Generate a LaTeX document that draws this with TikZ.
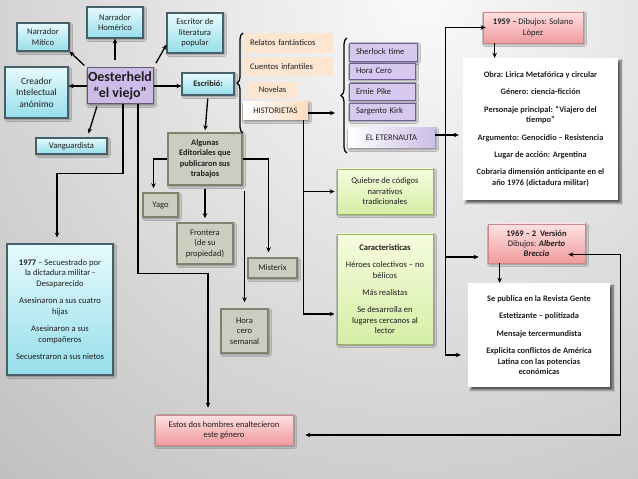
\documentclass[tikz,border=0pt]{standalone}
\usepackage{fontspec}
\setmainfont{Carlito}
\usetikzlibrary{arrows.meta,shadows,shadows.blur,calc,decorations.pathreplacing}
\definecolor{txt}{RGB}{30,30,30}
\definecolor{cyanT}{RGB}{230,250,253}
\definecolor{cyanB}{RGB}{150,222,234}
\definecolor{cyanD}{RGB}{70,95,105}
\definecolor{lav}{RGB}{205,188,232}
\definecolor{lavD}{RGB}{95,90,110}
\definecolor{olv}{RGB}{204,205,192}
\definecolor{olvD}{RGB}{128,130,108}
\definecolor{peach}{RGB}{252,230,210}
\definecolor{purp}{RGB}{214,200,238}
\definecolor{purpD}{RGB}{112,92,150}
\definecolor{pinkT}{RGB}{255,225,225}
\definecolor{pinkB}{RGB}{240,155,158}
\definecolor{pinkD}{RGB}{185,85,88}
\definecolor{grnT}{RGB}{246,252,222}
\definecolor{grnB}{RGB}{212,238,165}
\definecolor{grnD}{RGB}{150,180,95}
\definecolor{bgL}{RGB}{250,250,250}
\definecolor{bgD}{RGB}{150,150,150}
\begin{document}
\begin{tikzpicture}[x=1bp,y=-1bp,
  every node/.style={font=\fontsize{8.6}{10.5}\selectfont, text=txt, align=center, inner sep=1bp},
  wh/.style 2 args={minimum width=#1bp, minimum height=#2bp},
  shad/.style={blur shadow={shadow xshift=1.6pt, shadow yshift=-1.6pt, shadow blur steps=6, shadow opacity=45}},
  bigshad/.style={blur shadow={shadow xshift=3pt, shadow yshift=-3pt, shadow blur steps=8, shadow opacity=60}},
  cybox/.style={shad, draw=cyanD, line width=1.1bp, top color=cyanT, bottom color=cyanB},
  lavbox/.style={shad, draw=lavD, line width=1bp, fill=lav},
  olvbox/.style={shad, draw=olvD, line width=1.5bp, fill=olv},
  pchbox/.style={fill=peach},
  histbox/.style={shad, left color=white, right color=peach!90!orange},
  purpbox/.style={shad, draw=purpD, line width=0.8bp, fill=purp},
  eterbox/.style={shad, left color=white, right color=purp!90!purpD},
  pinkbox/.style={shad, draw=pinkD!70, line width=0.7bp, top color=pinkT, bottom color=pinkB},
  grnbox/.style={shad, draw=grnD, line width=0.9bp, top color=grnT, bottom color=grnB},
  whbox/.style={bigshad, fill=white},
  bfnt/.style={font=\fontsize{8.4}{10.5}\selectfont\bfseries},
  arr/.style={draw=black, line width=1.3bp, -{Stealth[length=5bp,width=4.5bp]}},
  darr/.style={draw=black, line width=1.3bp, {Stealth[length=5bp,width=4.5bp]}-{Stealth[length=5bp,width=4.5bp]}},
  brc/.style={draw=black, line width=1.3bp, decorate, decoration={brace, amplitude=6bp}},
]
\useasboundingbox (0,0) rectangle (638,479);
\fill[bgD] (0,0) rectangle (638,479);
\begin{scope}
\clip (0,0) rectangle (638,479);
\shade[inner color=bgL, outer color=bgD] (420,0) circle (1100);
\end{scope}

% left cluster
\node[cybox, wh={52}{28}] (mitico) at (43,37) {Narrador\\Mítico};
\node[cybox, wh={56}{31}] (homerico) at (115,22.5) {Narrador\\Homérico};
\node[cybox, wh={56}{40}] (escritor) at (195,33) {Escritor de\\literatura\\popular};
\node[cybox, wh={63}{51}, font=\fontsize{9.5}{11.5}\selectfont] (creador) at (36.5,92.5) {Creador\\Intelectual\\anónimo};
\node[cybox, wh={71}{16}] (vang) at (71.5,146) {Vanguardista};
\node[lavbox, wh={66}{36}, inner sep=0pt, font=\fontsize{14}{16}\selectfont\bfseries] (oest) at (120,86) {Oesterheld\\“el viejo”};
\node[cybox, wh={52}{22}, bfnt] (escribio) at (208,84) {Escribió:};

% editoriales
\node[olvbox, wh={74}{52}, bfnt] (algunas) at (205,159) {Algunas\\Editoriales que\\publicaron sus\\trabajos};
\node[olvbox, wh={35}{24}] (yago) at (160.5,205) {Yago};
\node[olvbox, wh={56}{41}] (frontera) at (205,243.5) {Frontera\\(de su\\propiedad)};
\node[olvbox, wh={49}{20}] (misterix) at (272.5,268) {Misterix};
\node[olvbox, wh={47}{44}] (horacero) at (244.5,331) {Hora\\cero\\semanal};
\node[pinkbox, wh={138}{30}] (estos) at (224,430) {Estos dos hombres enaltecieron\\este género};
\node[cybox, wh={106}{131}] (b1977) at (60,309.5) {\textbf{1977} – Secuestrado por\\la dictadura militar -\\Desaparecido\\[7bp]Asesinaron a sus cuatro\\hijas\\[7bp]Asesinaron a sus\\compañeros\\[7bp]Secuestraron a sus nietos};

% genres
\node[pchbox, wh={89}{20}, text width=77bp, align=left, inner xsep=6bp] (relatos) at (288.5,43) {Relatos fantásticos};
\node[pchbox, wh={89}{19}, text width=77bp, align=left, inner xsep=6bp] (cuentos) at (288.5,66.5) {Cuentos infantiles};
\node[pchbox, wh={49}{16}] (novelas) at (272.5,90) {Novelas};
\node[histbox, wh={65}{18}] (hist) at (275.5,111) {HISTORIETAS};

% historietas
\node[purpbox, wh={68}{18}, text width=54bp, align=left, inner xsep=7bp] (sherlock) at (383,52) {Sherlock time};
\node[purpbox, wh={66}{16}, text width=52bp, align=left, inner xsep=7bp] (horacero2) at (382,71) {Hora Cero};
\node[purpbox, wh={66}{17}, text width=52bp, align=left, inner xsep=7bp] (ernie) at (382,91.5) {Ernie Pike};
\node[purpbox, wh={66}{17}, text width=52bp, align=left, inner xsep=7bp] (kirk) at (382,111.5) {Sargento Kirk};
\node[eterbox, wh={87}{20}] (etern) at (391.5,138) {EL ETERNAUTA};

\node[grnbox, wh={96}{45}] (quiebre) at (385,191.5) {Quiebre de códigos\\narrativos\\tradicionales};
\node[grnbox, wh={96}{110}] (caract) at (385,289) {\textbf{Caracteristicas}\\[7bp]Héroes colectivos – no\\bélicos\\[7bp]Más realistas\\[7bp]Se desarrolla en\\lugares cercanos al\\lector};

% right column
\node[pinkbox, wh={100}{31}] (b1959) at (533,27.5) {\textbf{1959 –} Dibujos: Solano\\López};
\node[whbox, wh={155}{142}, bfnt] (obra) at (540.5,129) {Obra: Lirica Metafórica y circular\\[7bp]Género: ciencia-ficción\\[7bp]Personaje principal: “Viajero del\\tiempo”\\[7bp]Argumento: Genocidio – Resistencia\\[7bp]Lugar de acción: Argentina\\[7bp]Cobraria dimensión anticipante en el\\año 1976 (dictadura militar)};
\node[pinkbox, wh={97}{39}] (b1969) at (536.5,243.5) {\textbf{1969 – 2 \ Versión}\\Dibujos: \textbf{\textit{Alberto}}\\\textbf{\textit{Breccia}}};
\node[whbox, wh={142}{104}, bfnt] (sepub) at (539,335) {Se publica en la Revista Gente\\[7bp]Estetizante – politizada\\[7bp]Mensaje tercermundista\\[7bp]Explicita conflictos de América\\Latina con las potencias\\económicas};

% braces
\draw[brc] (243,133) -- (243,33) node[coordinate, midway, left=6bp] (b1tip) {};
\draw[brc] (347,153) -- (347,38) node[coordinate, midway, left=7bp] (b2tip) {};

% connectors from Oesterheld
\draw[arr, shorten <=3bp] (oest.north west) -- (mitico.south east);
\draw[arr, shorten <=7bp] (oest.north -| homerico.south) -- (homerico.south);
\draw[arr, shorten <=5bp] (oest.north east) -- ($(escritor.south west)+(0,-9)$);
\draw[arr] (oest.west) -- (oest.west -| creador.east);
\draw[arr, shorten <=2bp] ($(oest.south west)+(11,0)$) -- ($(vang.north)+(17,-4)$);
\draw[arr] (oest.east) -- (oest.east -| escribio.west);
\draw[arr, shorten <=3bp, shorten >=2bp] (escribio.south) -- (algunas.north);
\draw[arr] ($(oest.south)+(3,0)$) -- ++(0,69) -| ($(b1977.north)+(-3,-6)$);
\draw[arr] ($(oest.south)+(18,0)$) -- ++(0,169) -| ($(estos.north)+(-16,-7)$);

% editoriales
\draw[arr] (algunas.west) -| ($(yago.north)+(-7,-4)$);
\draw[arr, shorten <=3bp, shorten >=4bp] (algunas.south) -- (frontera.north);
\draw[arr] (algunas.east) -| ($(misterix.north)+(-4,-5)$);
\draw[arr, shorten <=5bp, shorten >=6bp] (horacero.north |- algunas.south) -- (horacero.north);

% historietas
\coordinate (hs) at ($(hist.south)+(28,0)$);
\draw[arr] (hs) |- ($(quiebre.west)+(-2,0)$);
\draw[arr] (hs) |- ($(caract.west)+(-2,25)$);
\draw[arr, shorten >=5bp] ($(hist.east)+(0,2)$) -- ($(hist.east -| b2tip)+(0,2)$);

% eternauta
\draw[arr, shorten >=4bp] ($(etern.east)+(0,-3)$) -- ($(etern.east -| obra.west)+(0,-3)$);
\coordinate (j) at ($(etern.east)+(10,-3)$);
\draw[arr] (j) |- ($(b1959.west)+(3,0)$);
\draw[arr] (j) |- ($(b1969.west)+(-9,13.5)$);
\draw[arr] (j) |- ($(sepub.west)+(-7,20)$);
\coordinate (s59) at ($(b1959.south west)+(12,0)$);
\draw[arr] (s59) -- (s59 |- obra.north);
\coordinate (s69) at ($(b1969.south west)+(12,0)$);
\draw[arr] (s69) -- (s69 |- sepub.north);
\coordinate (e69) at ($(b1969.east)+(-17,11)$);
\draw[darr] (e69) -- ++(52,0) |- ($(estos.east)+(12,5)$);
\end{tikzpicture}
\end{document}
